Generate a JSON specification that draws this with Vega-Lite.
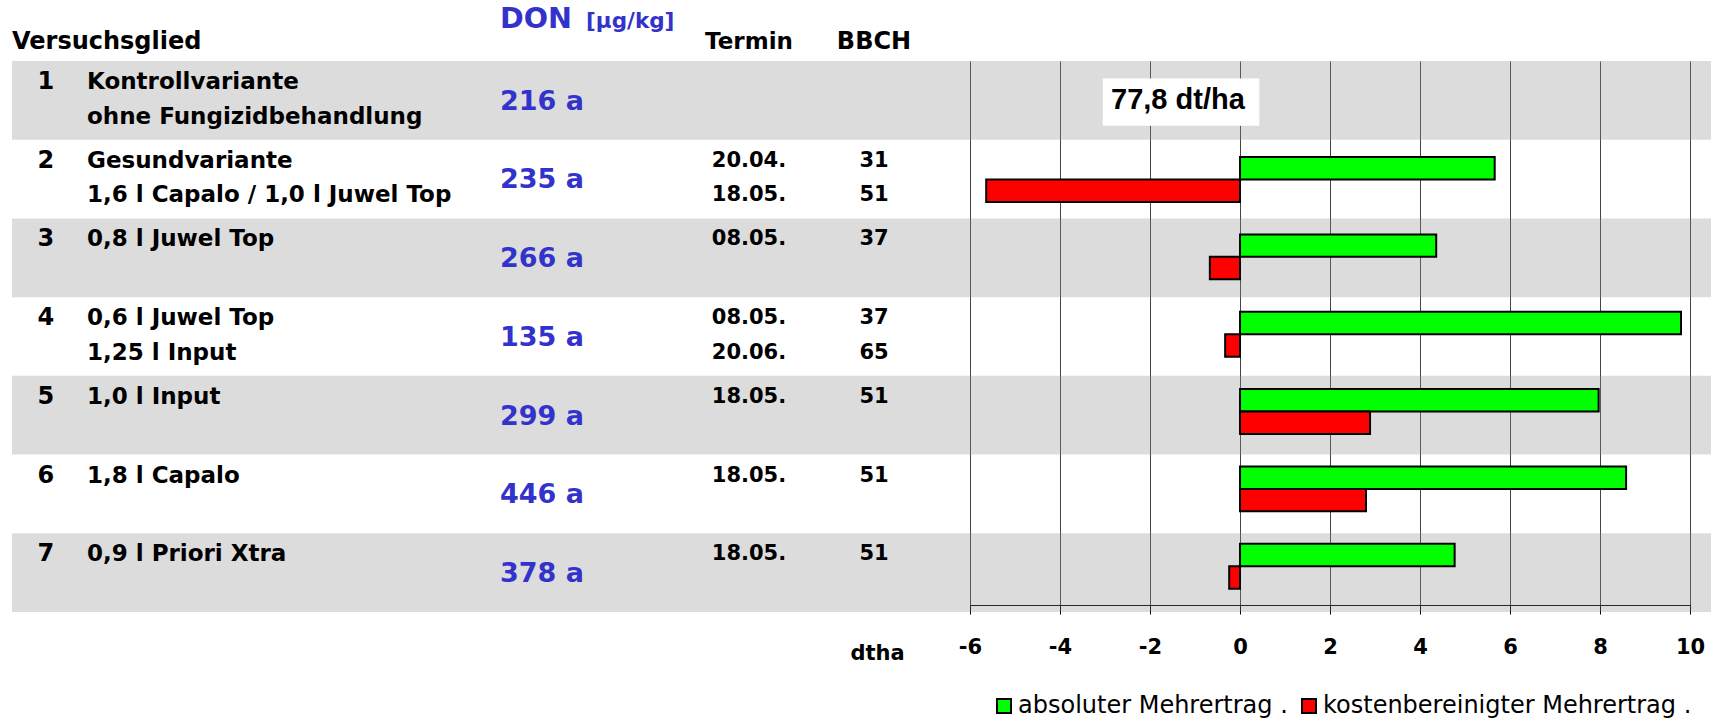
{
  "$schema": "https://vega.github.io/schema/vega-lite/v6.json",
  "background": "white",
  "padding": {"left": 12, "top": 5, "right": 0, "bottom": 0},
  "spacing": 0,
  "bounds": "flush",
  "config": {
    "view": {"stroke": null},
    "title": {"font": "DejaVu Sans", "fontWeight": "bold", "fontSize": 23, "color": "black", "baseline": "alphabetic", "anchor": "start", "offset": 7, "limit": 500}
  },
  "datasets": {
    "glieder": [
      {"nr": "1", "glied1": "Kontrollvariante", "glied2": "ohne Fungizidbehandlung", "don": "216 a", "termin1": null, "termin2": null, "bbch1": null, "bbch2": null, "ertrag": "77,8 dt/ha"},
      {"nr": "2", "glied1": "Gesundvariante", "glied2": "1,6 l Capalo / 1,0 l Juwel Top", "don": "235 a", "termin1": "20.04.", "termin2": "18.05.", "bbch1": "31", "bbch2": "51", "ertrag": null},
      {"nr": "3", "glied1": "0,8 l Juwel Top", "glied2": null, "don": "266 a", "termin1": "08.05.", "termin2": null, "bbch1": "37", "bbch2": null, "ertrag": null},
      {"nr": "4", "glied1": "0,6 l Juwel Top", "glied2": "1,25 l Input", "don": "135 a", "termin1": "08.05.", "termin2": "20.06.", "bbch1": "37", "bbch2": "65", "ertrag": null},
      {"nr": "5", "glied1": "1,0 l Input", "glied2": null, "don": "299 a", "termin1": "18.05.", "termin2": null, "bbch1": "51", "bbch2": null, "ertrag": null},
      {"nr": "6", "glied1": "1,8 l Capalo", "glied2": null, "don": "446 a", "termin1": "18.05.", "termin2": null, "bbch1": "51", "bbch2": null, "ertrag": null},
      {"nr": "7", "glied1": "0,9 l Priori Xtra", "glied2": null, "don": "378 a", "termin1": "18.05.", "termin2": null, "bbch1": "51", "bbch2": null, "ertrag": null}
    ],
    "mehrertrag": [
      {"nr": "2", "serie": "absoluter Mehrertrag .", "wert": 5.66},
      {"nr": "2", "serie": "kostenbereinigter Mehrertrag .", "wert": -5.64},
      {"nr": "3", "serie": "absoluter Mehrertrag .", "wert": 4.36},
      {"nr": "3", "serie": "kostenbereinigter Mehrertrag .", "wert": -0.67},
      {"nr": "4", "serie": "absoluter Mehrertrag .", "wert": 9.8},
      {"nr": "4", "serie": "kostenbereinigter Mehrertrag .", "wert": -0.33},
      {"nr": "5", "serie": "absoluter Mehrertrag .", "wert": 7.97},
      {"nr": "5", "serie": "kostenbereinigter Mehrertrag .", "wert": 2.89},
      {"nr": "6", "serie": "absoluter Mehrertrag .", "wert": 8.58},
      {"nr": "6", "serie": "kostenbereinigter Mehrertrag .", "wert": 2.8},
      {"nr": "7", "serie": "absoluter Mehrertrag .", "wert": 4.77},
      {"nr": "7", "serie": "kostenbereinigter Mehrertrag .", "wert": -0.24}
    ]
  },
  "hconcat": [
    {
      "width": 75, "height": 551,
      "title": {"text": "Versuchsglied", "fontSize": 24, "dx": 0},
      "layer": [
        {"data": {"name": "glieder"}, "transform": [{"filter": "toNumber(datum.nr) % 2 == 1"}], "mark": {"type": "rect", "fill": "#8a8a8a", "opacity": 0.3}, "encoding": {"y": {"field": "nr", "type": "ordinal", "scale": {"type": "band", "domain": ["1","2","3","4","5","6","7"], "paddingInner": 0, "paddingOuter": 0}, "axis": null}}},
        {"data": {"name": "glieder"}, "mark": {"type": "text", "align": "center", "baseline": "middle", "font": "DejaVu Sans", "fontWeight": "bold", "fontSize": 24, "fill": "black"},
         "encoding": {
           "x": {"datum": "Nr", "type": "nominal", "scale": {"type": "point", "padding": 0, "align": 0.45}, "axis": null},
           "y": {"field": "nr", "type": "ordinal", "bandPosition": 0.267, "scale": {"type": "band", "domain": ["1","2","3","4","5","6","7"], "paddingInner": 0, "paddingOuter": 0}, "axis": null},
           "text": {"field": "nr"}}}
      ],
      "resolve": {"scale": {"x": "independent"}}
    },
    {
      "width": 413, "height": 551,
      "layer": [
        {"data": {"name": "glieder"}, "transform": [{"filter": "toNumber(datum.nr) % 2 == 1"}], "mark": {"type": "rect", "fill": "#8a8a8a", "opacity": 0.3}, "encoding": {"y": {"field": "nr", "type": "ordinal", "scale": {"type": "band", "domain": ["1","2","3","4","5","6","7"], "paddingInner": 0, "paddingOuter": 0}, "axis": null}}},
        {"data": {"name": "glieder"}, "mark": {"type": "text", "align": "left", "baseline": "middle", "font": "DejaVu Sans", "fontWeight": "bold", "fontSize": 23, "fill": "black"},
         "encoding": {
           "x": {"datum": "Versuchsglied", "type": "nominal", "scale": {"type": "point", "padding": 0, "align": 0}, "axis": null},
           "y": {"field": "nr", "type": "ordinal", "bandPosition": 0.267, "scale": {"type": "band", "domain": ["1","2","3","4","5","6","7"], "paddingInner": 0, "paddingOuter": 0}, "axis": null},
           "text": {"field": "glied1"}}},
        {"data": {"name": "glieder"}, "transform": [{"filter": "datum.glied2 != null"}], "mark": {"type": "text", "align": "left", "baseline": "middle", "font": "DejaVu Sans", "fontWeight": "bold", "fontSize": 23, "fill": "black"},
         "encoding": {
           "x": {"datum": "Versuchsglied", "type": "nominal", "scale": {"type": "point", "padding": 0, "align": 0}, "axis": null},
           "y": {"field": "nr", "type": "ordinal", "bandPosition": 0.706, "scale": {"type": "band", "domain": ["1","2","3","4","5","6","7"], "paddingInner": 0, "paddingOuter": 0}, "axis": null},
           "text": {"field": "glied2"}}}
      ],
      "resolve": {"scale": {"x": "independent"}}
    },
    {
      "width": 86, "height": 551,
      "title": {"text": "DON", "fontSize": 28.6, "color": "#3333cc", "offset": 27.3},
      "layer": [
        {"data": {"name": "glieder"}, "transform": [{"filter": "toNumber(datum.nr) % 2 == 1"}], "mark": {"type": "rect", "fill": "#8a8a8a", "opacity": 0.3}, "encoding": {"y": {"field": "nr", "type": "ordinal", "scale": {"type": "band", "domain": ["1","2","3","4","5","6","7"], "paddingInner": 0, "paddingOuter": 0}, "axis": null}}},
        {"data": {"name": "glieder"}, "mark": {"type": "text", "align": "left", "baseline": "middle", "font": "DejaVu Sans", "fontWeight": "bold", "fontSize": 27, "fill": "#3333cc"},
         "encoding": {
           "x": {"datum": "DON", "type": "nominal", "scale": {"type": "point", "padding": 0, "align": 0}, "axis": null},
           "y": {"field": "nr", "type": "ordinal", "bandPosition": 0.518, "scale": {"type": "band", "domain": ["1","2","3","4","5","6","7"], "paddingInner": 0, "paddingOuter": 0}, "axis": null},
           "text": {"field": "don"}}}
      ],
      "resolve": {"scale": {"x": "independent"}}
    },
    {
      "width": 114, "height": 551,
      "title": {"text": "[µg/kg]", "fontSize": 21.5, "color": "#3333cc", "offset": 28.7},
      "layer": [
        {"data": {"name": "glieder"}, "transform": [{"filter": "toNumber(datum.nr) % 2 == 1"}], "mark": {"type": "rect", "fill": "#8a8a8a", "opacity": 0.3}, "encoding": {"y": {"field": "nr", "type": "ordinal", "scale": {"type": "band", "domain": ["1","2","3","4","5","6","7"], "paddingInner": 0, "paddingOuter": 0}, "axis": null}}}
      ]
    },
    {
      "width": 98, "height": 551,
      "title": {"text": "Termin", "anchor": "middle"},
      "layer": [
        {"data": {"name": "glieder"}, "transform": [{"filter": "toNumber(datum.nr) % 2 == 1"}], "mark": {"type": "rect", "fill": "#8a8a8a", "opacity": 0.3}, "encoding": {"y": {"field": "nr", "type": "ordinal", "scale": {"type": "band", "domain": ["1","2","3","4","5","6","7"], "paddingInner": 0, "paddingOuter": 0}, "axis": null}}},
        {"data": {"name": "glieder"}, "transform": [{"filter": "datum.termin1 != null"}], "mark": {"type": "text", "align": "center", "baseline": "middle", "font": "DejaVu Sans", "fontWeight": "bold", "fontSize": 21, "fill": "black"},
         "encoding": {
           "x": {"datum": "Termin", "type": "nominal", "scale": {"type": "point", "padding": 0, "align": 0.5}, "axis": null},
           "y": {"field": "nr", "type": "ordinal", "bandPosition": 0.267, "scale": {"type": "band", "domain": ["1","2","3","4","5","6","7"], "paddingInner": 0, "paddingOuter": 0}, "axis": null},
           "text": {"field": "termin1"}}},
        {"data": {"name": "glieder"}, "transform": [{"filter": "datum.termin2 != null"}], "mark": {"type": "text", "align": "center", "baseline": "middle", "font": "DejaVu Sans", "fontWeight": "bold", "fontSize": 21, "fill": "black"},
         "encoding": {
           "x": {"datum": "Termin", "type": "nominal", "scale": {"type": "point", "padding": 0, "align": 0.5}, "axis": null},
           "y": {"field": "nr", "type": "ordinal", "bandPosition": 0.706, "scale": {"type": "band", "domain": ["1","2","3","4","5","6","7"], "paddingInner": 0, "paddingOuter": 0}, "axis": null},
           "text": {"field": "termin2"}}}
      ],
      "resolve": {"scale": {"x": "independent"}}
    },
    {
      "width": 152, "height": 551,
      "title": {"text": "BBCH", "anchor": "middle", "fontSize": 24},
      "layer": [
        {"data": {"name": "glieder"}, "transform": [{"filter": "toNumber(datum.nr) % 2 == 1"}], "mark": {"type": "rect", "fill": "#8a8a8a", "opacity": 0.3}, "encoding": {"y": {"field": "nr", "type": "ordinal", "scale": {"type": "band", "domain": ["1","2","3","4","5","6","7"], "paddingInner": 0, "paddingOuter": 0}, "axis": null}}},
        {"data": {"name": "glieder"}, "transform": [{"filter": "datum.bbch1 != null"}], "mark": {"type": "text", "align": "center", "baseline": "middle", "font": "DejaVu Sans", "fontWeight": "bold", "fontSize": 21, "fill": "black"},
         "encoding": {
           "x": {"datum": "BBCH", "type": "nominal", "scale": {"type": "point", "padding": 0, "align": 0.5}, "axis": null},
           "y": {"field": "nr", "type": "ordinal", "bandPosition": 0.267, "scale": {"type": "band", "domain": ["1","2","3","4","5","6","7"], "paddingInner": 0, "paddingOuter": 0}, "axis": null},
           "text": {"field": "bbch1"}}},
        {"data": {"name": "glieder"}, "transform": [{"filter": "datum.bbch2 != null"}], "mark": {"type": "text", "align": "center", "baseline": "middle", "font": "DejaVu Sans", "fontWeight": "bold", "fontSize": 21, "fill": "black"},
         "encoding": {
           "x": {"datum": "BBCH", "type": "nominal", "scale": {"type": "point", "padding": 0, "align": 0.5}, "axis": null},
           "y": {"field": "nr", "type": "ordinal", "bandPosition": 0.706, "scale": {"type": "band", "domain": ["1","2","3","4","5","6","7"], "paddingInner": 0, "paddingOuter": 0}, "axis": null},
           "text": {"field": "bbch2"}}}
      ],
      "resolve": {"scale": {"x": "independent"}}
    },
    {
      "width": 761, "height": 551,
      "layer": [
        {"data": {"name": "glieder"}, "transform": [{"filter": "toNumber(datum.nr) % 2 == 1"}], "mark": {"type": "rect", "fill": "#8a8a8a", "opacity": 0.3}, "encoding": {"y": {"field": "nr", "type": "ordinal", "scale": {"type": "band", "domain": ["1","2","3","4","5","6","7"], "paddingInner": 0, "paddingOuter": 0}, "axis": null}}},
        {
          "layer": [
            {"data": {"name": "mehrertrag"}, "mark": {"type": "bar", "stroke": "black", "strokeWidth": 2},
             "encoding": {
               "y": {"field": "nr", "type": "ordinal", "scale": {"type": "band", "domain": ["1","2","3","4","5","6","7"], "paddingInner": 0, "paddingOuter": 0.062, "align": 0.26}, "axis": null},
               "yOffset": {"field": "serie", "type": "nominal", "scale": {"domain": ["absoluter Mehrertrag .", "kostenbereinigter Mehrertrag ."], "paddingInner": 0, "paddingOuter": 0.724}},
               "x": {"field": "wert", "type": "quantitative",
                     "scale": {"domain": [-6, 10], "range": [20, 740], "nice": false, "zero": false},
                     "axis": {"values": [-6, -4, -2, 0, 2, 4, 6, 8, 10], "labelExpr": "'' + datum.value", "offset": -7, "orient": "bottom",
                              "labelFlush": false, "labelOverlap": false,
                              "grid": true, "gridColor": "#444444", "gridWidth": 1,
                              "domain": true, "domainColor": "black", "domainWidth": 1,
                              "ticks": true, "tickColor": "black", "tickSize": 9, "tickWidth": 1,
                              "labelFont": "DejaVu Sans", "labelFontWeight": "bold", "labelFontSize": 21, "labelColor": "black", "labelPadding": 22,
                              "title": "dtha", "titleFont": "DejaVu Sans", "titleFontWeight": "bold", "titleFontSize": 21, "titleColor": "black",
                              "titleX": -73, "titleY": 54, "titleAlign": "center", "titleBaseline": "alphabetic", "titleAnchor": null}},
               "fill": {"field": "serie", "type": "nominal",
                        "scale": {"domain": ["absoluter Mehrertrag .", "kostenbereinigter Mehrertrag ."], "range": ["#00ff00", "#ff0000"]},
                        "legend": {"orient": "none", "legendX": 980, "legendY": 633, "direction": "horizontal", "title": null,
                                   "symbolType": "square", "symbolSize": 196, "symbolStrokeColor": "black", "symbolStrokeWidth": 2, "symbolOpacity": 1,
                                   "labelFont": "DejaVu Sans", "labelFontSize": 24, "labelColor": "black", "labelLimit": 600, "labelOffset": 2, "columnPadding": 9}}}},
            {"data": {"name": "glieder"}, "transform": [{"filter": "datum.ertrag != null"}], "mark": {"type": "bar", "fill": "white", "height": {"band": 0.61}},
             "encoding": {
               "y": {"field": "nr", "type": "ordinal", "scale": {"type": "band", "domain": ["1","2","3","4","5","6","7"], "paddingInner": 0, "paddingOuter": 0.062, "align": 0.26}, "axis": null},
               "x": {"datum": -3.05, "type": "quantitative", "axis": null},
               "x2": {"datum": 0.43}}},
            {"data": {"name": "glieder"}, "transform": [{"filter": "datum.ertrag != null"}], "mark": {"type": "text", "align": "center", "baseline": "middle", "font": "Liberation Sans", "fontWeight": "bold", "fontSize": 29, "fill": "black"},
             "encoding": {
               "y": {"field": "nr", "type": "ordinal", "bandPosition": 0.478, "scale": {"type": "band", "domain": ["1","2","3","4","5","6","7"], "paddingInner": 0, "paddingOuter": 0.062, "align": 0.26}, "axis": null},
               "x": {"datum": -1.38, "type": "quantitative", "axis": null},
               "text": {"field": "ertrag"}}}
          ],
          "resolve": {"scale": {"x": "shared"}, "axis": {"x": "independent"}}
        }
      ],
      "resolve": {"scale": {"x": "independent", "y": "independent"}}
    }
  ]
}
